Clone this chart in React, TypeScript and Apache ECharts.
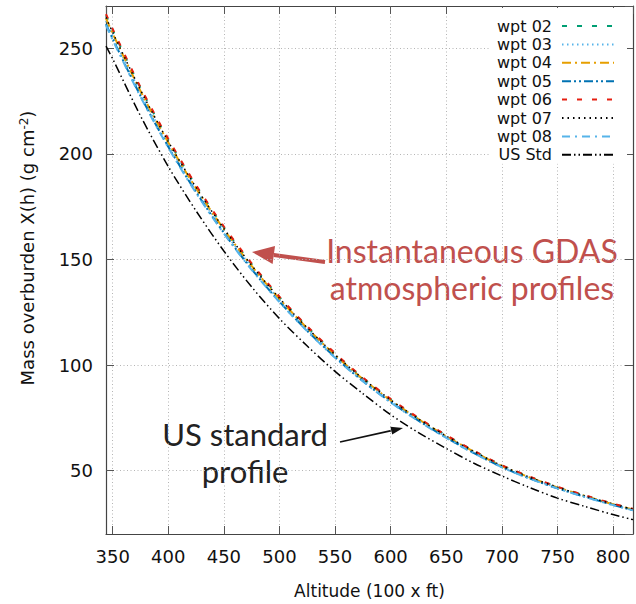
import React, { useEffect, useRef } from "react";
import * as echarts from "echarts";

// Altitude (100 x ft)
const altitude = [344, 350, 375, 400, 425, 450, 475, 500, 525, 550, 575, 600, 625, 650, 675, 700, 725, 750, 775, 800, 818];

// Mass overburden X(h) (g cm^-2)
const wpt02 = [265.6, 258.6, 231.2, 206.6, 184.8, 165.2, 147.8, 132.1, 118.1, 105.3, 93.9, 83.8, 74.8, 66.7, 59.3, 52.5, 47.1, 42.3, 38.2, 34.3, 31.8];
const wpt03 = [263.0, 256.0, 228.9, 204.6, 183.0, 163.6, 146.3, 130.8, 116.9, 104.3, 93.0, 83.0, 74.1, 66.0, 58.7, 52.0, 46.6, 41.9, 37.8, 34.0, 31.5];
const wpt04 = [264.1, 257.0, 229.8, 205.4, 183.7, 164.3, 146.9, 131.3, 117.4, 104.7, 93.4, 83.3, 74.4, 66.3, 58.9, 52.2, 46.8, 42.1, 38.0, 34.1, 31.6];
const wpt05 = [261.4, 254.5, 227.5, 203.4, 181.9, 162.6, 145.4, 130.0, 116.2, 103.7, 92.4, 82.5, 73.7, 65.6, 58.3, 51.7, 46.3, 41.6, 37.6, 33.8, 31.3];
const wpt06 = [266.2, 259.1, 231.6, 207.1, 185.2, 165.6, 148.1, 132.4, 118.3, 105.6, 94.1, 84.0, 75.0, 66.8, 59.4, 52.6, 47.2, 42.4, 38.3, 34.4, 31.9];
const wpt07 = [264.6, 257.5, 230.3, 205.8, 184.1, 164.6, 147.2, 131.6, 117.6, 104.9, 93.6, 83.5, 74.5, 66.4, 59.1, 52.3, 46.9, 42.2, 38.0, 34.2, 31.7];
const wpt08 = [260.9, 254.0, 227.1, 203.0, 181.5, 162.3, 145.1, 129.8, 116.0, 103.5, 92.3, 82.3, 73.5, 65.5, 58.2, 51.6, 46.2, 41.6, 37.5, 33.7, 31.2];
const usStd = [251.0, 245.0, 218.0, 194.0, 173.0, 154.0, 137.0, 122.0, 109.0, 97.0, 86.5, 76.5, 68.0, 60.5, 53.5, 47.5, 42.0, 37.0, 33.0, 29.2, 26.8];

const seriesNames = ["wpt 02", "wpt 03", "wpt 04", "wpt 05", "wpt 06", "wpt 07", "wpt 08", "US Std"];
const seriesValues = [wpt02, wpt03, wpt04, wpt05, wpt06, wpt07, wpt08, usStd];
const seriesColors = ["#009e73", "#56b4e9", "#e69f00", "#0072b2", "#e51e10", "#000000", "#56b4e9", "#000000"];
const seriesDash: number[][] = [
  [5, 10],
  [1.5, 3.5],
  [9, 4, 2, 4],
  [9, 3, 2, 3, 2, 3],
  [5, 10],
  [1.5, 4],
  [8, 5, 2, 5],
  [9, 3, 1.5, 3, 1.5, 3],
];
const seriesWidth = [2, 2, 2, 2, 2, 1.5, 2, 1.5];

const FONT = "DejaVu Sans";
const ANNOT_FONT = "Lato";

export default function App() {
  const ref = useRef<HTMLDivElement>(null);

  useEffect(() => {
    if (!ref.current) return;
    const chart = echarts.init(ref.current, undefined, { renderer: "svg" });

    const axisLineStyle = { color: "#444", width: 1.2 };
    const tickStyle = { color: "#555", width: 1 };
    const splitStyle = { color: "#b5b5b5", width: 1, type: [1, 2.5] as any };

    const option: any = {
      animation: false,
      backgroundColor: "#fff",
      grid: { left: 106, right: 3, top: 6, bottom: 65, containLabel: false },
      xAxis: [
        {
          type: "value",
          min: 344,
          max: 818,
          splitNumber: 10,
          minInterval: 50,
          maxInterval: 50,
          position: "bottom",
          name: "Altitude (100 x ft)",
          nameLocation: "middle",
          nameGap: 48,
          nameTextStyle: { fontFamily: FONT, fontSize: 17, color: "#111" },
          axisLine: { show: true, lineStyle: axisLineStyle },
          axisTick: { show: true, inside: true, length: 8, lineStyle: tickStyle },
          axisLabel: {
            fontFamily: FONT,
            fontSize: 18,
            color: "#111",
            margin: 13,
            showMinLabel: false,
            showMaxLabel: false,
          },
          splitLine: { show: true, lineStyle: splitStyle },
        },
        {
          type: "value",
          min: 344,
          max: 818,
          splitNumber: 10,
          minInterval: 50,
          maxInterval: 50,
          position: "top",
          axisLine: { show: true, lineStyle: axisLineStyle },
          axisTick: { show: true, inside: true, length: 8, lineStyle: tickStyle },
          axisLabel: { show: false },
          splitLine: { show: false },
        },
      ],
      yAxis: [
        {
          type: "value",
          min: 20,
          max: 270,
          splitNumber: 5,
          minInterval: 50,
          maxInterval: 50,
          position: "left",
          axisLine: { show: true, lineStyle: axisLineStyle },
          axisTick: { show: true, inside: true, length: 8, lineStyle: tickStyle },
          axisLabel: {
            fontFamily: FONT,
            fontSize: 18,
            color: "#111",
            margin: 13,
            showMinLabel: false,
            showMaxLabel: false,
          },
          splitLine: { show: true, lineStyle: splitStyle },
        },
        {
          type: "value",
          min: 20,
          max: 270,
          splitNumber: 5,
          minInterval: 50,
          maxInterval: 50,
          position: "right",
          axisLine: { show: true, lineStyle: axisLineStyle },
          axisTick: { show: true, inside: true, length: 8, lineStyle: tickStyle },
          axisLabel: { show: false },
          splitLine: { show: false },
        },
      ],
      legend: {
        orient: "vertical",
        right: 9,
        top: 8,
        align: "right",
        itemWidth: 52,
        itemHeight: 14,
        itemGap: 2.4,
        padding: [10, 12, 1, 8],
        backgroundColor: "#ffffff",
        data: seriesNames,
        itemStyle: { opacity: 0 },
        textStyle: { fontFamily: FONT, fontSize: 16, color: "#111", padding: [0, 5, 0, 0] },
      },
      series: seriesNames.map((name, k) => ({
        name,
        type: "line",
        xAxisIndex: 0,
        yAxisIndex: 0,
        symbol: "none",
        smooth: 0.3,
        z: k === 7 ? 3 : 2,
        lineStyle: { color: seriesColors[k], width: seriesWidth[k], type: seriesDash[k] },
        itemStyle: { color: seriesColors[k] },
        data: altitude.map((a, i) => [a, seriesValues[k][i]]),
      })),
      graphic: [
        {
          type: "text",
          x: 27,
          y: 248,
          rotation: Math.PI / 2,
          style: {
            text: "Mass overburden X(h) (g cm{sup|-2})",
            fontFamily: FONT,
            fontSize: 18,
            fill: "#111",
            align: "center",
            verticalAlign: "middle",
            rich: {
              sup: { fontFamily: FONT, fontSize: 12, verticalAlign: "top", fill: "#111" },
            },
          },
        },
        {
          type: "text",
          x: 472,
          y: 250,
          style: {
            text: "Instantaneous GDAS",
            fontFamily: ANNOT_FONT,
            fontSize: 32,
            fill: "#c0504d",
            align: "center",
            verticalAlign: "middle",
          },
        },
        {
          type: "text",
          x: 472,
          y: 287,
          style: {
            text: "atmospheric profiles",
            fontFamily: ANNOT_FONT,
            fontSize: 32,
            fill: "#c0504d",
            align: "center",
            verticalAlign: "middle",
          },
        },
        {
          type: "line",
          shape: { x1: 325, y1: 262, x2: 273.8, y2: 255 },
          style: { stroke: "#c0504d", lineWidth: 4 },
        },
        {
          type: "polygon",
          shape: { points: [[252, 252], [275.0, 246.1], [272.6, 263.9]] },
          style: { fill: "#c0504d" },
        },
        {
          type: "text",
          x: 245,
          y: 434,
          style: {
            text: "US standard",
            fontFamily: ANNOT_FONT,
            fontSize: 31,
            fill: "#222",
            align: "center",
            verticalAlign: "middle",
          },
        },
        {
          type: "text",
          x: 245,
          y: 471,
          style: {
            text: "profile",
            fontFamily: ANNOT_FONT,
            fontSize: 31,
            fill: "#222",
            align: "center",
            verticalAlign: "middle",
          },
        },
        {
          type: "line",
          shape: { x1: 340, y1: 442, x2: 391.3, y2: 430.6 },
          style: { stroke: "#111", lineWidth: 1.6 },
        },
        {
          type: "polygon",
          shape: { points: [[403, 428], [392.2, 434.5], [390.4, 426.7]] },
          style: { fill: "#111" },
        },
      ],
    };

    chart.setOption(option);
    return () => chart.dispose();
  }, []);

  return (
    <div
      ref={ref}
      style={{ position: "fixed", left: 0, top: 0, width: 636, height: 604 }}
    />
  );
}
